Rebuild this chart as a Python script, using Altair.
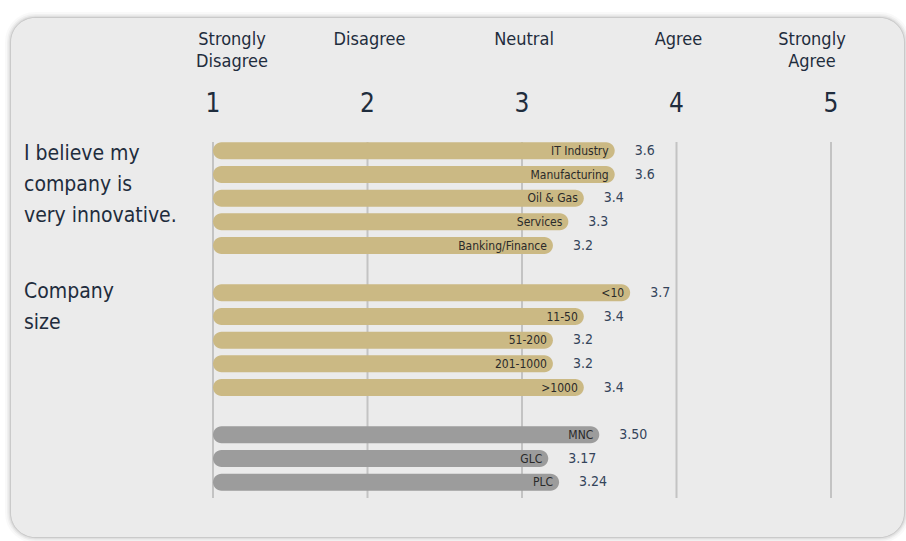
import altair as alt
import pandas as pd

# ---- data ----
industries = ["IT Industry", "Manufacturing", "Oil & Gas", "Services", "Banking/Finance"]
industry_vals = [3.6, 3.6, 3.4, 3.3, 3.2]
sizes = ["<10", "11-50", "51-200", "201-1000", ">1000"]
size_vals = [3.7, 3.4, 3.2, 3.2, 3.4]
owners = ["MNC", "GLC", "PLC"]
owner_vals = [3.50, 3.17, 3.24]
scale_ticks = [1, 2, 3, 4, 5]
scale_names = ["Strongly\nDisagree", "Disagree", "Neutral", "Agree", "Strongly\nAgree"]
question_labels = ["I believe my\ncompany is\nvery innovative.", "Company\nsize"]

rows = []
for n, v in zip(industries, industry_vals):
    rows.append(dict(cat=n, value=v, label=f"{v:.1f}", group="tan"))
for n, v in zip(sizes, size_vals):
    rows.append(dict(cat=n, value=v, label=f"{v:.1f}", group="tan"))
for n, v in zip(owners, owner_vals):
    rows.append(dict(cat=n, value=v, label=f"{v:.2f}", group="gray"))
df = pd.DataFrame(rows)
ticks_df = pd.DataFrame({"tick": scale_ticks, "name": scale_names})

y_domain = industries + [" "] + sizes + ["  "] + owners

FONT = "DejaVu Sans Condensed, DejaVu Sans, sans-serif"
NAVY = "#1f2d3d"

x_scale = alt.Scale(domain=[1, 5], range=[213, 831])
y_scale = alt.Scale(domain=y_domain, range=[139, 494], paddingInner=0, paddingOuter=0)

one = alt.Chart(pd.DataFrame({"k": [0]}))

# card + soft shadow
shadow_layers = []
for sw, op in [(12, 0.025), (8, 0.035), (5, 0.05), (2.5, 0.07), (1, 0.08)]:
    shadow_layers.append(
        one.mark_rect(cornerRadius=24, fill=None, stroke="#000000", strokeWidth=sw, strokeOpacity=op).encode(
            x=alt.value(11), x2=alt.value(904), y=alt.value(18), y2=alt.value(537)
        )
    )
card = one.mark_rect(cornerRadius=24, fill="#ebebeb").encode(
    x=alt.value(11), x2=alt.value(904), y=alt.value(18), y2=alt.value(537)
)

grid = alt.Chart(ticks_df).mark_rule(color="#c3c3c3", strokeWidth=2).encode(
    x=alt.X("tick:Q", scale=x_scale, axis=None),
    y=alt.value(142),
    y2=alt.value(498),
)

bars = alt.Chart(df).mark_bar(size=17, cornerRadius=8.5).encode(
    x=alt.X("value:Q", scale=x_scale, axis=None),
    x2=alt.datum(1),
    y=alt.Y("cat:N", scale=y_scale, axis=None, sort=y_domain),
    color=alt.Color("group:N", scale=alt.Scale(domain=["tan", "gray"], range=["#cbb984", "#9c9c9c"]), legend=None),
)

inner = alt.Chart(df).mark_text(align="right", dx=-6, fontSize=12, color="#2a2a2a", font=FONT).encode(
    x=alt.X("value:Q", scale=x_scale, axis=None),
    y=alt.Y("cat:N", scale=y_scale, axis=None, sort=y_domain),
    text="cat:N",
)

vals = alt.Chart(df).mark_text(align="left", dx=20, fontSize=14, color="#34445a", font=FONT).encode(
    x=alt.X("value:Q", scale=x_scale, axis=None),
    y=alt.Y("cat:N", scale=y_scale, axis=None, sort=y_domain),
    text="label:N",
)

nums = alt.Chart(ticks_df).mark_text(fontSize=26, color=NAVY, font=FONT, baseline="middle").encode(
    x=alt.X("tick:Q", scale=x_scale, axis=None),
    y=alt.value(104),
    text="tick:N",
)

def head(filter_expr, dx):
    return alt.Chart(ticks_df).transform_filter(filter_expr).mark_text(
        fontSize=18, color=NAVY, font=FONT, baseline="top", lineBreak="\n", lineHeight=22, align="center", dx=dx
    ).encode(
        x=alt.X("tick:Q", scale=x_scale, axis=None),
        y=alt.value(31),
        text="name:N",
    )

heads = [head("datum.tick == 1", 19), head("datum.tick > 1 && datum.tick < 5", 2), head("datum.tick == 5", -19)]

q_df = pd.DataFrame({"q": question_labels, "i": [0, 1]})
q1 = alt.Chart(q_df).transform_filter("datum.i == 0").mark_text(
    align="left", baseline="top", fontSize=21, color=NAVY, font=FONT, lineBreak="\n", lineHeight=31
).encode(x=alt.value(24), y=alt.value(143), text="q:N")
q2 = alt.Chart(q_df).transform_filter("datum.i == 1").mark_text(
    align="left", baseline="top", fontSize=21, color=NAVY, font=FONT, lineBreak="\n", lineHeight=31
).encode(x=alt.value(24), y=alt.value(281), text="q:N")

chart = alt.layer(
    *shadow_layers, card, grid, bars, inner, vals, nums, *heads, q1, q2
).properties(
    width=906, height=541, autosize=alt.AutoSizeParams(type="none"), padding=0, background="#ffffff"
).configure_view(stroke=None)

chart.save("out.html", embed_options={"renderer": "svg", "actions": False})
